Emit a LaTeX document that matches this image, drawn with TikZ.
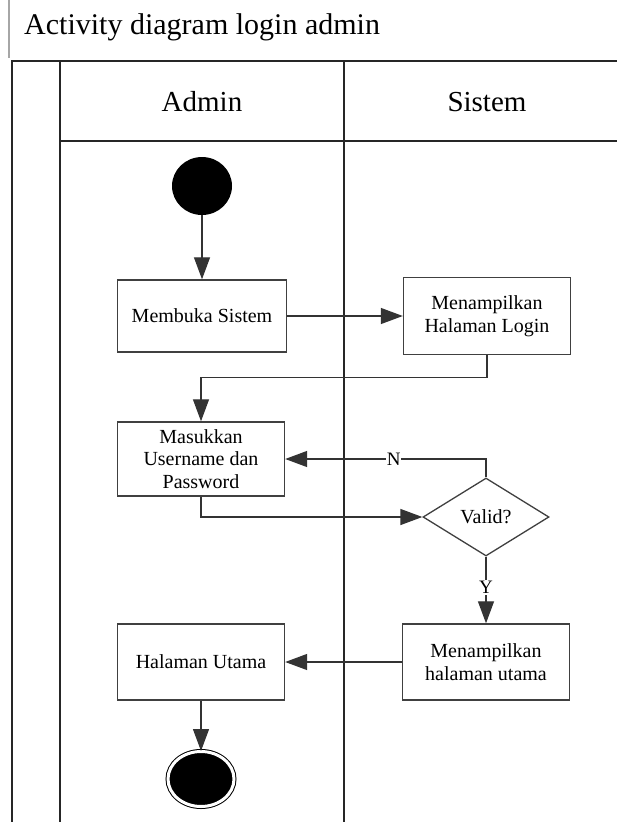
\documentclass[tikz,border=0pt]{standalone}
\usepackage{fontspec}
\setmainfont{Liberation Serif}
\usetikzlibrary{shapes.geometric,arrows.meta}
\begin{document}
\begin{tikzpicture}[x=1pt,y=-1pt,
  lane/.style={line width=1.6pt,draw=black!85},
  act/.style={draw=black!75,line width=1.4pt,rectangle,minimum width=167pt,minimum height=74pt,align=center,font=\fontsize{20}{22.5}\selectfont,inner sep=2pt},
  decision/.style={draw=black!75,line width=1.3pt,diamond,aspect=1.6,minimum width=126pt,minimum height=78pt,inner sep=0pt,font=\fontsize{20}{22}\selectfont},
  flow/.style={draw=black!80,line width=1.3pt,-{Triangle[length=22pt,width=16pt]}},
  guard/.style={fill=white,inner sep=1pt,font=\fontsize{19}{21}\selectfont},
  lanehead/.style={anchor=base,font=\fontsize{29}{32}\selectfont},
  startnode/.style={ellipse,fill=black,minimum width=60pt,minimum height=58pt,inner sep=0pt},
  endnode/.style={ellipse,fill=black,draw=black,line width=1pt,double=white,double distance=3pt,minimum width=66pt,minimum height=55pt,inner sep=0pt}]
\useasboundingbox (0,0) rectangle (617,822);
\fill[white] (0,0) rectangle (617,822);

% title and swimlane frame
\draw[line width=2pt,black!35] (9,0) -- (9,58);
\node[anchor=base west,font=\fontsize{30}{33}\selectfont,inner sep=0pt] (title) at (24,34) {Activity diagram login admin};
\draw[lane] (12,822) -- (12,61) -- (617,61);
\draw[lane] (60,61) -- (60,822);
\draw[lane] (344,61) -- (344,822);
\draw[lane] (60,141) -- (617,141);
\node[lanehead] (admin) at (202,111) {Admin};
\node[lanehead] (sistem) at (487,111) {Sistem};

% activities
\node[startnode] (start) at (202,186) {};
\node[act,minimum width=169pt,minimum height=72pt] (buka) at (202,316) {Membuka Sistem};
\node[act,minimum height=77pt] (login) at (487,316) {Menampilkan\\Halaman Login};
\node[act] (masuk) at (201,459) {Masukkan\\Username dan\\Password};
\node[decision] (valid) at (486,517) {Valid?};
\node[act,minimum height=76pt] (tampil) at (486,662) {Menampilkan\\halaman utama};
\node[act,minimum height=76pt] (utama) at (201,662) {Halaman Utama};
\node[endnode] (end) at (201,779) {};

% control flows
\draw[flow] (start) -- (buka);
\draw[flow] (buka) -- (login);
\draw[flow] (login.south) -- ++(0,22) -| (masuk.north);
\draw[flow] (masuk.south) |- (valid.west);
\draw[flow] (valid.north) |- (masuk.east) node[guard,pos=0.73] (n) {N};
\draw[flow] (valid.south) -- (tampil.north) node[guard,pos=0.46] (y) {Y};
\draw[flow] (tampil) -- (utama);
\draw[flow] (utama) -- (end);
\end{tikzpicture}
\end{document}
